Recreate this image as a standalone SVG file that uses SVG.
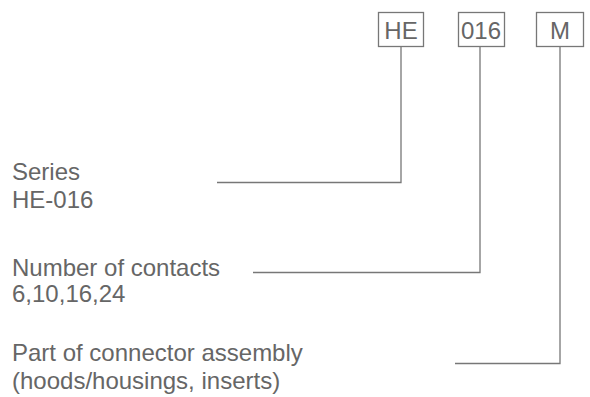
<svg xmlns="http://www.w3.org/2000/svg" width="590" height="397" viewBox="0 0 590 397">
<style>
.t{font-family:"Liberation Sans",Arial,sans-serif;font-size:24px;fill:#666}
.b{fill:#fff;stroke:#777;stroke-width:1.3}
.bt{font-family:"Liberation Sans",Arial,sans-serif;font-size:24px;fill:#666;text-anchor:middle}
.l{fill:none;stroke:#777;stroke-width:1.3}
</style>
<rect width="590" height="397" fill="#fff"/>
<g id="box-he"><rect class="b" x="378.5" y="12.5" width="45" height="34"/><text class="bt" x="401" y="38.5">HE</text></g>
<g id="box-016"><rect class="b" x="458.5" y="12.5" width="46" height="34"/><text class="bt" x="481" y="38.5">016</text></g>
<g id="box-m"><rect class="b" x="536.5" y="12.5" width="47" height="34"/><text class="bt" x="560" y="38.5">M</text></g>
<g id="label-series"><text class="t" x="12" y="180">Series</text><text class="t" x="12" y="208">HE-016</text></g>
<g id="label-contacts"><text class="t" x="12" y="276">Number of contacts</text><text class="t" x="12" y="302">6,10,16,24</text></g>
<g id="label-part"><text class="t" x="12" y="361">Part of connector assembly</text><text class="t" x="12" y="389">(hoods/housings, inserts)</text></g>
<g id="connectors">
<polyline class="l" points="401,46.5 401,182.5 217,182.5"/>
<polyline class="l" points="480,46.5 480,272.5 253,272.5"/>
<polyline class="l" points="560,46.5 560,363.5 455,363.5"/>
</g>
</svg>
